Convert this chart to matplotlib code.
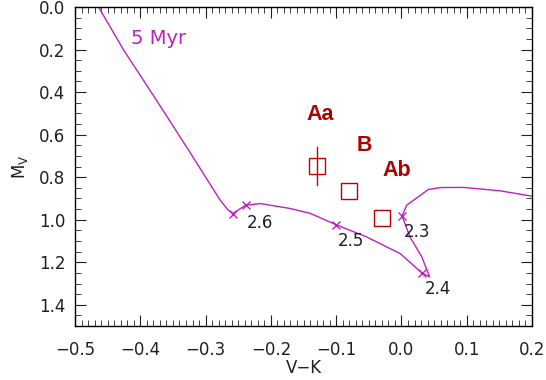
import matplotlib
matplotlib.use("Agg")
import matplotlib.pyplot as plt
from matplotlib.ticker import MultipleLocator

plt.rcParams['font.family'] = ['DejaVu Sans']

# 5 Myr isochrone track (V-K, M_V)
track_vk = [-0.4639, -0.4256, -0.3753, -0.3260, -0.2777, -0.2667, -0.2586, -0.2385,
            -0.2164, -0.1711, -0.1399, -0.1007, -0.0534, -0.0021, 0.0312, 0.0432,
            0.0312, 0.0130, 0.0010, 0.0080, 0.0412, 0.0593, 0.0945, 0.1508, 0.1992]
track_mv = [0.0, 0.202, 0.438, 0.673, 0.908, 0.950, 0.971, 0.932,
            0.924, 0.947, 0.970, 1.023, 1.081, 1.159, 1.250, 1.269,
            1.175, 1.081, 0.982, 0.932, 0.858, 0.849, 0.848, 0.864, 0.889]

# mass marks on the track
mass_vk = [-0.2586, -0.2385, -0.1007, 0.0312, 0.0010]
mass_mv = [0.971, 0.932, 1.023, 1.250, 0.982]
mass_labels = ["2.6", "2.5", "2.4", "2.3"]
mass_label_vk = [-0.2164, -0.0775, 0.0553, 0.0231]
mass_label_mv = [1.015, 1.100, 1.328, 1.060]

# components
comp_names = ["Aa", "B", "Ab"]
comp_vk = [-0.1298, -0.0805, -0.0302]
comp_mv = [0.748, 0.866, 0.994]
comp_err = [0.088, 0.0, 0.0]
comp_label_vk = [-0.1238, -0.0569, -0.0071]
comp_label_mv = [0.505, 0.653, 0.770]

fig = plt.figure(figsize=(5.46, 3.8), dpi=100)
ax = fig.add_axes([0.1374, 0.142, 0.837, 0.8395])

track_color = "#c020c0"
red = "#c00000"
ink = "#202020"

ax.plot(track_vk, track_mv, color=track_color, lw=1.0)
ax.plot(mass_vk, mass_mv, ls="none", marker="x", ms=6, mew=1.0, color=track_color)
for lab, x, y in zip(mass_labels, mass_label_vk, mass_label_mv):
    ax.text(x, y, lab, fontsize=12, color=ink, ha="center", va="center")

ax.plot(comp_vk, comp_mv, ls="none", marker="s", ms=11, mfc="none", mec=red, mew=1.0)
for x, y, e in zip(comp_vk, comp_mv, comp_err):
    if e > 0:
        ax.plot([x, x], [y - e, y + e], color=red, lw=1.0)
for name, x, y in zip(comp_names, comp_label_vk, comp_label_mv):
    ax.text(x, y, name, fontsize=15.5, fontweight="bold", color="#b00000",
            family="Liberation Sans", ha="center", va="center")

ax.text(-0.3723, 0.147, "5 Myr", fontsize=14, color=track_color, ha="center", va="center")

ax.set_xlim(-0.5, 0.2)
ax.set_ylim(1.5, 0.0)
ax.xaxis.set_major_locator(MultipleLocator(0.1))
ax.xaxis.set_minor_locator(MultipleLocator(0.01))
ax.yaxis.set_major_locator(MultipleLocator(0.2))
ax.yaxis.set_minor_locator(MultipleLocator(0.05))
ax.tick_params(which="both", direction="in", top=True, right=True, labelsize=12,
               colors=ink)
ax.tick_params(axis="x", pad=11)
ax.tick_params(axis="y", pad=7)
ax.tick_params(which="major", length=8)
ax.tick_params(which="minor", length=4)
ax.xaxis.set_major_formatter(plt.FuncFormatter(lambda v, p: f"{v:.1f}".replace("-", "\u2212")))
ax.yaxis.set_major_formatter(plt.FuncFormatter(lambda v, p: f"{abs(v):.1f}"))
for s in ax.spines.values():
    s.set_linewidth(1.0)

ax.set_xlabel("V\u2212K", fontsize=12, color=ink, labelpad=0)
ax.set_ylabel("M$_\\mathregular{V}$", fontsize=12, color=ink, labelpad=6)

fig.savefig("out.png", dpi=100)
